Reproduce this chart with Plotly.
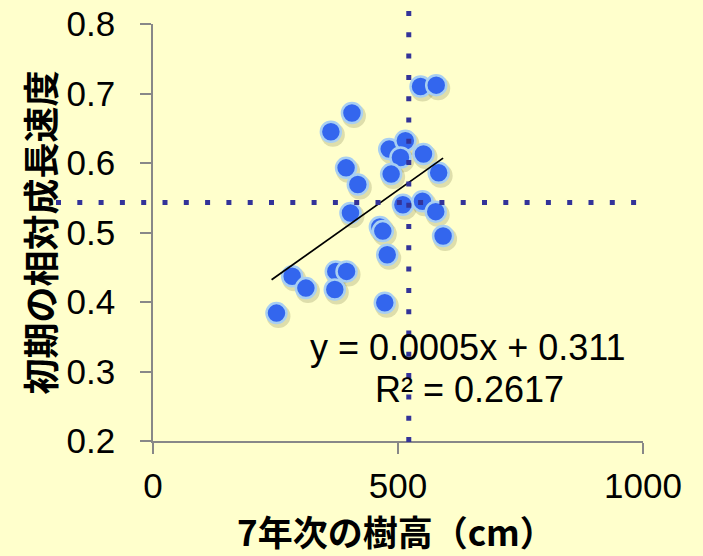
import numpy as np
import plotly.graph_objects as go

# 7年次の樹高 (cm) と 初期の相対成長速度
height_cm = [546, 578, 406, 363, 482, 515, 505, 552, 394, 486, 583, 418,
             510, 550, 577, 403, 463, 469, 592, 478, 284, 312, 373, 395,
             371, 473, 252]
growth_rate = [0.710, 0.712, 0.672, 0.645, 0.620, 0.632, 0.608, 0.613, 0.593,
               0.584, 0.586, 0.569, 0.540, 0.545, 0.530, 0.528, 0.508, 0.502,
               0.495, 0.468, 0.437, 0.420, 0.444, 0.444, 0.418, 0.399, 0.384]

# 回帰式 y = 0.0005x + 0.311, R² = 0.2617
slope = 0.0005
intercept = 0.311
r_squared = 0.2617

# 平均値の基準線
mean_height = 522
mean_rate = 0.543

x_ticks = [0, 500, 1000]
y_ticks = [0.2, 0.3, 0.4, 0.5, 0.6, 0.7, 0.8]

BG = "#FFFFCC"
AXIS_GRAY = "#888888"
DOT_BLUE = "#333399"
NUM_FONT = "Liberation Sans, Arial, sans-serif"
JP_FONT = "Noto Sans CJK JP, sans-serif"

W, H = 703, 556
M = dict(l=153, r=60, t=24, b=115)
plot_w = W - M["l"] - M["r"]
plot_h = H - M["t"] - M["b"]
x_range = [0, 1000]
y_range = [0.2, 0.8]


def px_to_paper_x(px):
    return (px - M["l"]) / plot_w


def px_to_paper_y(py):
    return (M["t"] + plot_h - py) / plot_h


def data_to_paper_x(v):
    return (v - x_range[0]) / (x_range[1] - x_range[0])


def data_to_paper_y(v):
    return (v - y_range[0]) / (y_range[1] - y_range[0])


# 影のずれ (px → データ単位)
sx = 2 * (x_range[1] - x_range[0]) / plot_w
sy = 3 * (y_range[1] - y_range[0]) / plot_h

fig = go.Figure()

fig.add_trace(go.Scatter(
    x=[v + sx for v in height_cm], y=[v - sy for v in growth_rate],
    mode="markers", hoverinfo="skip",
    marker=dict(size=24, color="rgba(90,90,40,0.2)", line=dict(width=0)),
))

fig.add_trace(go.Scatter(
    x=height_cm, y=growth_rate, mode="markers",
    marker=dict(size=20, color="#3366EE", line=dict(width=2.5, color="#A8CFF2")),
))

tx = np.array([min(height_cm) - 10, max(height_cm)])
fig.add_trace(go.Scatter(
    x=tx, y=slope * tx + intercept, mode="lines",
    line=dict(color="black", width=1.75),
))

# 平均値の点線 (プロット領域の外まで伸ばすため paper 座標で描く)
fig.add_shape(type="line", xref="paper", yref="paper",
              x0=px_to_paper_x(56), x1=px_to_paper_x(652),
              y0=data_to_paper_y(mean_rate), y1=data_to_paper_y(mean_rate),
              line=dict(color=DOT_BLUE, width=5, dash="5px,16.3px"))
fig.add_shape(type="line", xref="paper", yref="paper",
              x0=data_to_paper_x(mean_height), x1=data_to_paper_x(mean_height),
              y0=px_to_paper_y(442), y1=px_to_paper_y(2),
              line=dict(color=DOT_BLUE, width=5, dash="5px,16.3px"))

fig.add_annotation(x=642, y=0.334, xref="x", yref="y",
                   text=f"y = {slope}x + {intercept}", showarrow=False,
                   font=dict(family=NUM_FONT, size=36, color="black"))
fig.add_annotation(x=645, y=0.2734, xref="x", yref="y",
                   text=f"R² = {r_squared}", showarrow=False,
                   font=dict(family=NUM_FONT, size=36, color="black"))

# 軸タイトル
fig.add_annotation(x=px_to_paper_x(38), y=0.5, xref="paper", yref="paper",
                   xanchor="center", yanchor="middle",
                   text="初期の相対成長速度", showarrow=False, textangle=-90,
                   font=dict(family=JP_FONT, size=36, color="black", weight="bold"))
fig.add_annotation(x=px_to_paper_x(396), y=px_to_paper_y(530),
                   xref="paper", yref="paper", xanchor="center", yanchor="middle",
                   text="7年次の樹高（cm）", showarrow=False,
                   font=dict(family=JP_FONT, size=35, color="black", weight="bold"))

fig.update_layout(
    width=W, height=H, margin=M,
    paper_bgcolor=BG, plot_bgcolor=BG, showlegend=False,
    xaxis=dict(range=x_range, tickvals=x_ticks, showgrid=False, zeroline=False,
               automargin=False,
               showline=True, linecolor=AXIS_GRAY, linewidth=1.5,
               ticks="outside", ticklen=11, tickwidth=1.5, tickcolor=AXIS_GRAY,
               ticklabelstandoff=2,
               tickfont=dict(family=NUM_FONT, size=35, color="black")),
    yaxis=dict(range=y_range, tickvals=y_ticks, tickformat=".1f", showgrid=False,
               zeroline=False, automargin=False,
               showline=True, linecolor=AXIS_GRAY, linewidth=1.5,
               ticks="outside", ticklen=11, tickwidth=1.5, tickcolor=AXIS_GRAY,
               ticklabelstandoff=18,
               tickfont=dict(family=NUM_FONT, size=35, color="black")),
)

fig.write_html("out.html")
